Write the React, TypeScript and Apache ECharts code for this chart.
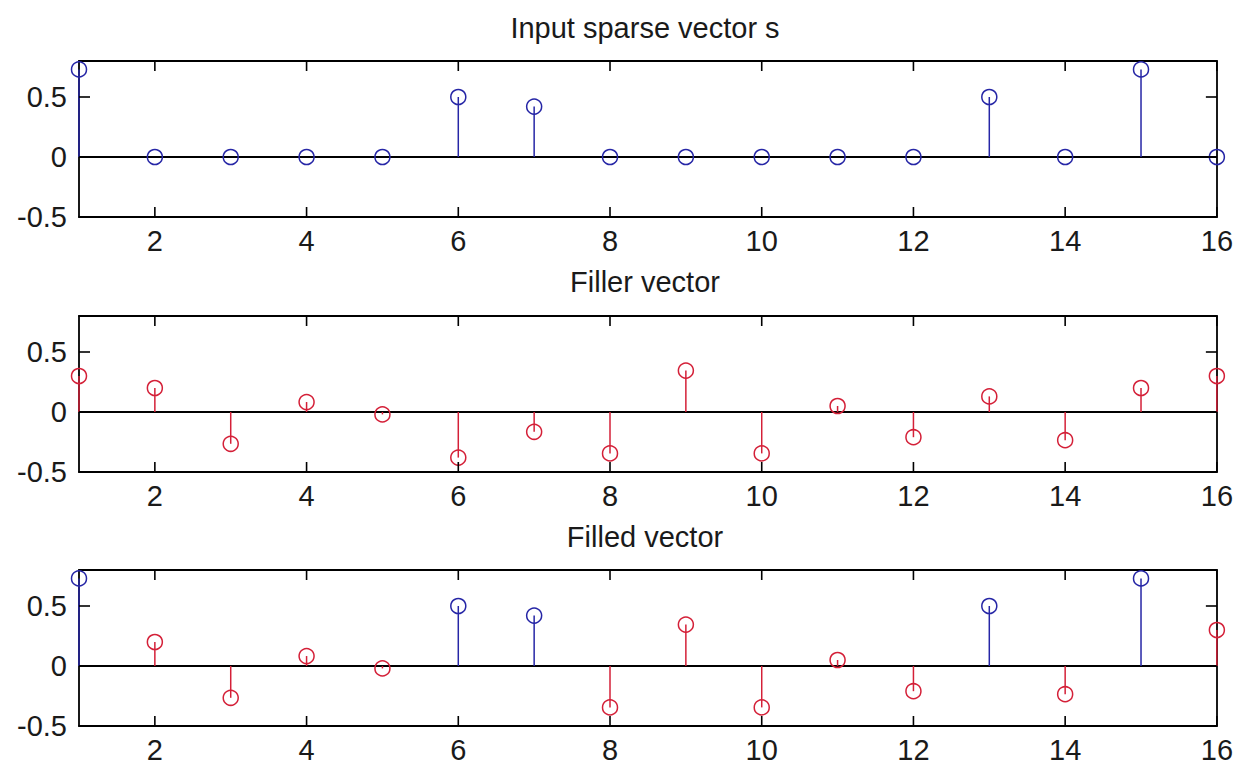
import React, { useEffect, useRef } from "react";
import * as echarts from "echarts";

const xValues = [1, 2, 3, 4, 5, 6, 7, 8, 9, 10, 11, 12, 13, 14, 15, 16];
const sparseValues = [0.73, 0, 0, 0, 0, 0.5, 0.42, 0, 0, 0, 0, 0, 0.5, 0, 0.73, 0];
const fillerValues = [0.3, 0.2, -0.265, 0.083, -0.02, -0.38, -0.165, -0.345, 0.345, -0.345, 0.05, -0.21, 0.13, -0.235, 0.2, 0.3];
const filledValues = [0.73, 0.2, -0.265, 0.083, -0.02, 0.5, 0.42, -0.345, 0.345, -0.345, 0.05, -0.21, 0.5, -0.235, 0.73, 0.3];
const filledSupport = [1, 6, 7, 13, 15];
const titles = ["Input sparse vector s", "Filler vector", "Filled vector"];
const xTicks = [2, 4, 6, 8, 10, 12, 14, 16];
const yTicks = [-0.5, 0, 0.5];
const xRange = [1, 16];
const yRange = [-0.5, 0.8];

const BLUE = "#2626a6";
const RED = "#d42038";
const FONT = "'Liberation Sans', Arial, sans-serif";

const grids = [
  { top: 61, height: 156 },
  { top: 316, height: 156 },
  { top: 570, height: 157 },
];
const titleY = [27.5, 282, 537];

function stemSeries(name: string, gridIdx: number, data: number[][], color: string, withBase: boolean) {
  const s: any = {
    name,
    type: "custom",
    xAxisIndex: gridIdx * 2,
    yAxisIndex: gridIdx * 2,
    clip: false,
    data,
    z: 3,
    renderItem: (params: any, api: any) => {
      const x = api.value(0);
      const y = api.value(1);
      const p = api.coord([x, y]);
      const b = api.coord([x, 0]);
      return {
        type: "group",
        children: [
          {
            type: "line",
            shape: { x1: b[0], y1: b[1], x2: p[0], y2: p[1] },
            style: { stroke: color, lineWidth: 1.5 },
          },
          {
            type: "circle",
            shape: { cx: p[0], cy: p[1], r: 7.5 },
            style: { stroke: color, fill: "none", lineWidth: 1.5 },
          },
        ],
      };
    },
  };
  if (withBase) {
    s.markLine = {
      silent: true,
      symbol: ["none", "none"],
      label: { show: false },
      lineStyle: { color: "#000", width: 1.8, type: "solid" },
      data: [{ yAxis: 0 }],
      z: 2,
    };
  }
  return s;
}

// Inside tick marks on all four sides, positioned through the axes' scales.
function tickSeries(gridIdx: number) {
  const data: any[] = [];
  xTicks.forEach((v) => data.push([v, 0, 0]));
  yTicks.forEach((v) => data.push([0, v, 1]));
  return {
    type: "custom",
    xAxisIndex: gridIdx * 2,
    yAxisIndex: gridIdx * 2,
    silent: true,
    clip: false,
    z: 4,
    data,
    renderItem: (params: any, api: any) => {
      const isY = api.value(2) === 1;
      const style = { stroke: "#000", lineWidth: 1.6 };
      if (!isY) {
        const x = api.value(0);
        const b = api.coord([x, yRange[0]]);
        const t = api.coord([x, yRange[1]]);
        return {
          type: "group",
          children: [
            { type: "line", shape: { x1: b[0], y1: b[1], x2: b[0], y2: b[1] - 10 }, style },
            { type: "line", shape: { x1: t[0], y1: t[1], x2: t[0], y2: t[1] + 10 }, style },
          ],
        };
      }
      const y = api.value(1);
      const l = api.coord([xRange[0], y]);
      const r = api.coord([xRange[1], y]);
      return {
        type: "group",
        children: [
          { type: "line", shape: { x1: l[0], y1: l[1], x2: l[0] + 11, y2: l[1] }, style },
          { type: "line", shape: { x1: r[0], y1: r[1], x2: r[0] - 11, y2: r[1] }, style },
        ],
      };
    },
  };
}

export default function App() {
  const ref = useRef<HTMLDivElement>(null);
  useEffect(() => {
    document.body.style.margin = "0";
    const chart = echarts.init(ref.current!, null, { renderer: "svg" });
    const xAxes: any[] = [];
    const yAxes: any[] = [];
    const lineStyle = { color: "#000", width: 1.8 };
    grids.forEach((_, i) => {
      const common = (pos: string, isX: boolean, labels: boolean) => ({
        type: "value",
        gridIndex: i,
        min: isX ? xRange[0] : yRange[0],
        max: isX ? xRange[1] : yRange[1],
        position: pos,
        axisLine: { show: true, onZero: false, lineStyle },
        splitLine: { show: false },
        axisTick: { show: false },
        axisLabel: labels
          ? {
              show: true,
              customValues: isX ? xTicks : yTicks,
              margin: isX ? 9 : 12,
              fontSize: 29,
              color: "#1a1a1a",
              fontFamily: FONT,
            }
          : { show: false },
      });
      xAxes.push(common("bottom", true, true));
      xAxes.push(common("top", true, false));
      yAxes.push(common("left", false, true));
      yAxes.push(common("right", false, false));
    });

    const pairs = (vals: number[], keep: (x: number) => boolean) =>
      xValues.map((x, i) => [x, vals[i]]).filter((d) => keep(d[0]));

    const series = [
      stemSeries("Input sparse vector s", 0, pairs(sparseValues, () => true), BLUE, true),
      stemSeries("Filler vector", 1, pairs(fillerValues, () => true), RED, true),
      stemSeries("Filled (filler)", 2, pairs(filledValues, (x) => filledSupport.indexOf(x) < 0), RED, true),
      stemSeries("Filled (sparse)", 2, pairs(filledValues, (x) => filledSupport.indexOf(x) >= 0), BLUE, false),
      tickSeries(0),
      tickSeries(1),
      tickSeries(2),
    ];

    chart.setOption({
      animation: false,
      backgroundColor: "#fff",
      grid: grids.map((g) => ({
        left: 79,
        right: 17,
        top: g.top,
        height: g.height,
        show: false,
      })),
      xAxis: xAxes,
      yAxis: yAxes,
      graphic: titles.map((t, i) => ({
        type: "text",
        x: 645,
        y: titleY[i],
        style: {
          text: t,
          fontSize: 29,
          fontFamily: FONT,
          fill: "#1a1a1a",
          textAlign: "center",
          textVerticalAlign: "middle",
        },
      })),
      series,
    });
    return () => chart.dispose();
  }, []);
  return <div ref={ref} style={{ width: 1236, height: 764 }} />;
}
